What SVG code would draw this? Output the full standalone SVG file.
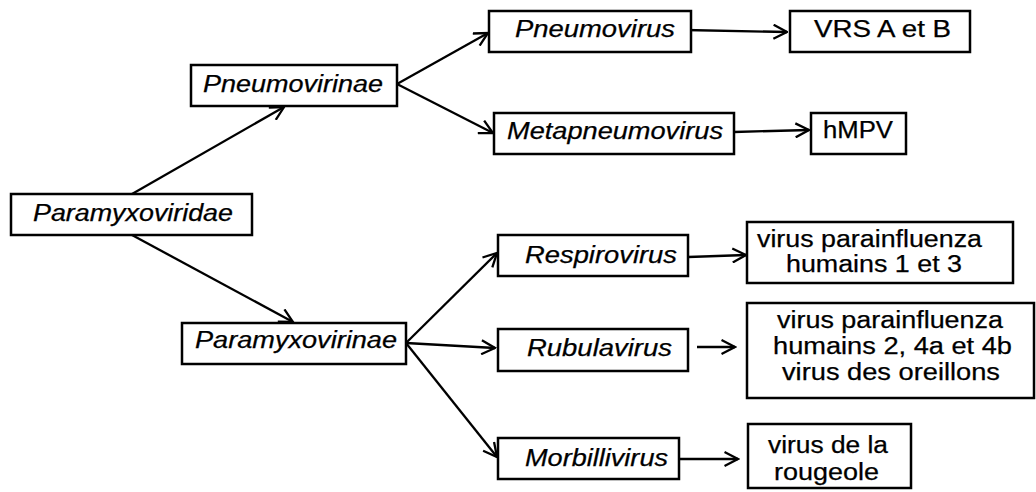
<svg xmlns="http://www.w3.org/2000/svg" width="1036" height="492" viewBox="0 0 1036 492">
<style>
.box{fill:#fff;stroke:#000;stroke-width:2.5}
.t{font-family:"Liberation Sans",Arial,sans-serif;font-size:23px;fill:#000;stroke:#000;stroke-width:0.25}
.i{font-style:italic}
.c{fill:none;stroke:#000;stroke-width:2.3;marker-end:url(#ah)}
</style>
<defs>
<marker id="ah" viewBox="0 0 16 16" refX="14.5" refY="8" markerWidth="16" markerHeight="16" markerUnits="userSpaceOnUse" orient="auto">
<path d="M1,1 L14.5,8 L1,15" fill="none" stroke="#000" stroke-width="2.3"/>
</marker>
</defs>
<rect width="1036" height="492" fill="#fff"/>
<g id="connectors">
<line class="c" x1="132" y1="194" x2="284" y2="107"/>
<line class="c" x1="132" y1="235" x2="293" y2="322"/>
<line class="c" x1="397" y1="84" x2="488" y2="33"/>
<line class="c" x1="397" y1="84" x2="493" y2="133"/>
<line class="c" x1="685" y1="30" x2="787" y2="32"/>
<line class="c" x1="734" y1="132" x2="809" y2="130"/>
<line class="c" x1="406" y1="343" x2="497" y2="253"/>
<line class="c" x1="406" y1="343" x2="495" y2="348"/>
<line class="c" x1="406" y1="343" x2="497" y2="457"/>
<line class="c" x1="688" y1="257" x2="746" y2="255"/>
<line class="c" x1="697" y1="347" x2="735" y2="347"/>
<line class="c" x1="679" y1="459" x2="738" y2="459"/>
</g>
<g id="paramyxoviridae"><rect class="box" x="11" y="194" width="241" height="41"/><text class="t i" x="33" y="221" textLength="200" lengthAdjust="spacingAndGlyphs">Paramyxoviridae</text></g>
<g id="pneumovirinae"><rect class="box" x="191" y="65" width="206" height="41"/><text class="t i" x="203" y="92" textLength="180" lengthAdjust="spacingAndGlyphs">Pneumovirinae</text></g>
<g id="paramyxovirinae"><rect class="box" x="182" y="323" width="224" height="41"/><text class="t i" x="195" y="348" textLength="202" lengthAdjust="spacingAndGlyphs">Paramyxovirinae</text></g>
<g id="pneumovirus"><rect class="box" x="489" y="11" width="202" height="41"/><text class="t i" x="515" y="37" textLength="160" lengthAdjust="spacingAndGlyphs">Pneumovirus</text></g>
<g id="metapneumovirus"><rect class="box" x="494" y="113" width="240" height="41"/><text class="t i" x="507" y="139" textLength="216" lengthAdjust="spacingAndGlyphs">Metapneumovirus</text></g>
<g id="respirovirus"><rect class="box" x="498" y="235" width="190" height="41"/><text class="t i" x="525" y="263" textLength="152" lengthAdjust="spacingAndGlyphs">Respirovirus</text></g>
<g id="rubulavirus"><rect class="box" x="498" y="329" width="190" height="42"/><text class="t i" x="527" y="356" textLength="145" lengthAdjust="spacingAndGlyphs">Rubulavirus</text></g>
<g id="morbillivirus"><rect class="box" x="498" y="438" width="181" height="41"/><text class="t i" x="525" y="466" textLength="143" lengthAdjust="spacingAndGlyphs">Morbillivirus</text></g>
<g id="vrs"><rect class="box" x="790" y="11" width="180" height="41"/><text class="t" x="814" y="37" textLength="137" lengthAdjust="spacingAndGlyphs">VRS A et B</text></g>
<g id="hmpv"><rect class="box" x="811" y="113" width="95" height="41"/><text class="t" x="823" y="138" textLength="70" lengthAdjust="spacingAndGlyphs">hMPV</text></g>
<g id="piv13"><rect class="box" x="747" y="222" width="266" height="61"/>
<text class="t" x="757" y="247" textLength="225" lengthAdjust="spacingAndGlyphs">virus parainfluenza</text>
<text class="t" x="786" y="272" textLength="176" lengthAdjust="spacingAndGlyphs">humains 1 et 3</text></g>
<g id="piv24"><rect class="box" x="747" y="303" width="287" height="95"/>
<text class="t" x="777" y="328" textLength="226" lengthAdjust="spacingAndGlyphs">virus parainfluenza</text>
<text class="t" x="773" y="354" textLength="239" lengthAdjust="spacingAndGlyphs">humains 2, 4a et 4b</text>
<text class="t" x="782" y="380" textLength="218" lengthAdjust="spacingAndGlyphs">virus des oreillons</text></g>
<g id="rougeole"><rect class="box" x="748" y="424" width="163" height="64"/>
<text class="t" x="768" y="453" textLength="120" lengthAdjust="spacingAndGlyphs">virus de la</text>
<text class="t" x="774" y="480" textLength="105" lengthAdjust="spacingAndGlyphs">rougeole</text></g>
</svg>
